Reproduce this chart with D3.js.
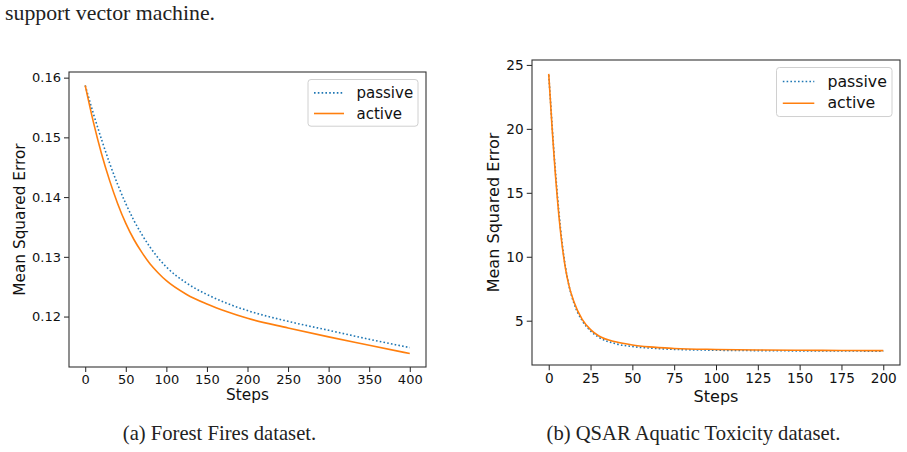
<!DOCTYPE html>
<html>
<head>
<meta charset="utf-8">
<script src="https://cdn.jsdelivr.net/npm/d3@7"></script>
<style>
  body { margin: 0; background: #fff; }
  svg { display: block; }
</style>
</head>
<body>
<svg id="page" width="907" height="452"></svg>
<script>
const forestSteps = [0, 10, 20, 30, 40, 50, 60, 70, 80, 90, 100, 125, 150, 175, 200, 250, 300, 350, 400];
const forestPassive = [0.1587, 0.1540, 0.1497, 0.1457, 0.1421, 0.1389, 0.1361, 0.1337, 0.1316, 0.1298, 0.1283, 0.1256, 0.1237, 0.1222, 0.1210, 0.1192, 0.1177, 0.1162, 0.1148];
const forestActive = [0.1587, 0.1526, 0.1473, 0.1428, 0.1389, 0.1356, 0.1329, 0.1307, 0.1288, 0.1273, 0.1260, 0.1237, 0.1221, 0.1208, 0.1197, 0.1181, 0.1166, 0.1152, 0.1138];

const qsarSteps = [0, 1, 2, 3, 4, 5, 6, 8, 10, 12, 15, 20, 25, 30, 40, 50, 60, 75, 100, 125, 150, 175, 200];
const qsarPassive = [24.2, 22.3, 20.3, 18.4, 16.7, 15.1, 13.6, 11.1, 9.2, 7.8, 6.4, 5.0, 4.2, 3.7, 3.2, 2.98, 2.86, 2.76, 2.69, 2.66, 2.64, 2.63, 2.62];
const qsarActive = [24.3, 22.2, 20.1, 18.2, 16.4, 14.8, 13.3, 10.9, 9.1, 7.8, 6.5, 5.1, 4.3, 3.8, 3.35, 3.1, 2.95, 2.83, 2.75, 2.71, 2.69, 2.67, 2.66];

const forestXTicks = [0, 50, 100, 150, 200, 250, 300, 350, 400];
const forestYTicks = [0.12, 0.13, 0.14, 0.15, 0.16];
const qsarXTicks = [0, 25, 50, 75, 100, 125, 150, 175, 200];
const qsarYTicks = [5, 10, 15, 20, 25];

const seriesNames = ["passive", "active"];
const xLabel = "Steps";
const yLabel = "Mean Squared Error";
const topLine = "support vector machine.";
const captions = ["(a) Forest Fires dataset.", "(b) QSAR Aquatic Toxicity dataset."];

const blue = "#1f77b4";
const orange = "#ff7f0e";
const sans = "'DejaVu Sans', sans-serif";
const serif = "'Liberation Serif', serif";

const svg = d3.select("#page");

// matplotlib style 5% margins
function padded(values) {
  const lo = d3.min(values), hi = d3.max(values);
  const m = (hi - lo) * 0.05;
  return [lo - m, hi + m];
}

function drawPanel(p) {
  const g = svg.append("g");
  const x = d3.scaleLinear().domain(padded(p.steps)).range([p.left, p.right]);
  const y = d3.scaleLinear().domain(padded(p.passive.concat(p.active))).range([p.bottom, p.top]);
  const k = p.scale;

  const xAxis = g.append("g")
    .attr("transform", "translate(0," + p.bottom + ")")
    .call(d3.axisBottom(x).tickValues(p.xTicks).tickSize(5 * k).tickPadding(3 * k).tickFormat(d3.format("d")));
  const yAxis = g.append("g")
    .attr("transform", "translate(" + p.left + ",0)")
    .call(d3.axisLeft(y).tickValues(p.yTicks).tickSize(5 * k).tickPadding(3 * k).tickFormat(p.yFormat));

  [xAxis, yAxis].forEach(function (a) {
    a.select(".domain").remove();
    a.selectAll("line").attr("stroke", "#222").attr("stroke-width", 1);
    a.selectAll("text")
      .style("font-family", sans)
      .style("font-size", (13 * k) + "px")
      .attr("fill", "#111");
  });

  const line = d3.line()
    .x(function (d) { return x(d[0]); })
    .y(function (d) { return y(d[1]); })
    .curve(d3.curveMonotoneX);

  g.append("path")
    .datum(d3.zip(p.steps, p.passive))
    .attr("d", line)
    .attr("fill", "none")
    .attr("stroke", blue)
    .attr("stroke-width", 1.6)
    .attr("stroke-dasharray", "1.6,2.2");

  g.append("path")
    .datum(d3.zip(p.steps, p.active))
    .attr("d", line)
    .attr("fill", "none")
    .attr("stroke", orange)
    .attr("stroke-width", 1.6);

  // frame
  g.append("rect")
    .attr("x", p.left)
    .attr("y", p.top)
    .attr("width", p.right - p.left)
    .attr("height", p.bottom - p.top)
    .attr("fill", "none")
    .attr("stroke", "#333")
    .attr("stroke-width", 1.1);

  // legend
  const lw = 110 * k, lh = 46.7 * k;
  const lx = p.right - 8 - lw, ly = p.top + 7.5;
  const legend = g.append("g").attr("transform", "translate(" + lx + "," + ly + ")");
  legend.append("rect")
    .attr("width", lw)
    .attr("height", lh)
    .attr("rx", 3)
    .attr("fill", "white")
    .attr("fill-opacity", 0.8)
    .attr("stroke", "#d0d0d0")
    .attr("stroke-width", 1);

  legend.selectAll("g.item")
    .data(seriesNames)
    .enter()
    .append("g")
    .attr("class", "item")
    .each(function (d, i) {
      const row = d3.select(this);
      const cy = (13.4 + 20.6 * i) * k;
      row.append("line")
        .attr("x1", 6 * k)
        .attr("x2", 36 * k)
        .attr("y1", cy)
        .attr("y2", cy)
        .attr("stroke", i === 0 ? blue : orange)
        .attr("stroke-width", 1.6)
        .attr("stroke-dasharray", i === 0 ? "1.6,2.2" : null);
      row.append("text")
        .attr("x", 48.5 * k)
        .attr("y", cy + 5 * k)
        .style("font-family", sans)
        .style("font-size", (15 * k) + "px")
        .attr("fill", "#111")
        .text(d);
    });

  // axis labels
  g.append("text")
    .attr("x", (p.left + p.right) / 2)
    .attr("y", p.xLabelY)
    .attr("text-anchor", "middle")
    .style("font-family", sans)
    .style("font-size", (15.3 * k) + "px")
    .attr("fill", "#111")
    .text(xLabel);

  g.append("text")
    .attr("transform", "translate(" + p.yLabelX + "," + (p.top + p.bottom) / 2 + ") rotate(-90)")
    .attr("text-anchor", "middle")
    .style("font-family", sans)
    .style("font-size", (15.3 * k) + "px")
    .attr("fill", "#111")
    .text(yLabel);

  // caption
  svg.append("text")
    .attr("x", p.captionX)
    .attr("y", 440)
    .attr("text-anchor", "middle")
    .style("font-family", serif)
    .style("font-size", "20.6px")
    .attr("fill", "#222")
    .text(p.caption);
}

svg.append("text")
  .attr("x", 5)
  .attr("y", 19.5)
  .style("font-family", serif)
  .style("font-size", "21.8px")
  .attr("fill", "#222")
  .text(topLine);

drawPanel({
  left: 69, right: 426, top: 72, bottom: 367, scale: 1,
  steps: forestSteps, passive: forestPassive, active: forestActive,
  xTicks: forestXTicks, yTicks: forestYTicks, yFormat: d3.format(".2f"),
  xLabelY: 400, yLabelX: 25,
  caption: captions[0], captionX: 219.5
});

drawPanel({
  left: 532, right: 900, top: 60, bottom: 365, scale: 1.05,
  steps: qsarSteps, passive: qsarPassive, active: qsarActive,
  xTicks: qsarXTicks, yTicks: qsarYTicks, yFormat: d3.format("d"),
  xLabelY: 401.5, yLabelX: 498.5,
  caption: captions[1], captionX: 693.5
});
</script>
</body>
</html>
